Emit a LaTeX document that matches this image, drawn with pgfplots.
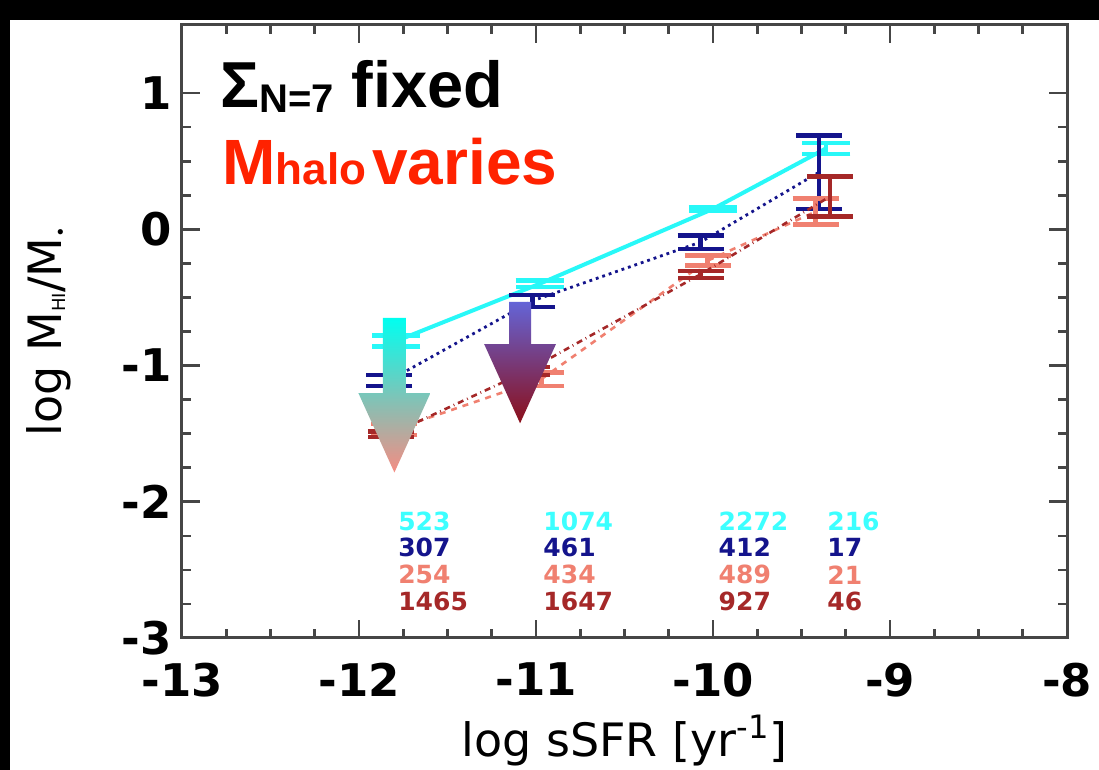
\documentclass[border=0pt]{standalone}
\usepackage{fontspec}
\setmainfont{DejaVu Sans}
\newfontfamily\lsb{Liberation Sans}
\usepackage{pgfplots}
\pgfplotsset{compat=1.18}
\definecolor{cy}{RGB}{40,248,248}
\definecolor{cyt}{RGB}{60,255,255}
\definecolor{nv}{RGB}{20,20,140}
\definecolor{sa}{RGB}{240,128,112}
\definecolor{dr}{RGB}{165,40,40}
\definecolor{hr}{RGB}{255,34,0}
\definecolor{ax}{RGB}{70,70,70}
\definecolor{aat}{RGB}{0,255,240}
\definecolor{aam}{RGB}{155,182,182}
\definecolor{aab}{RGB}{245,140,130}
\definecolor{abt}{RGB}{100,100,215}
\definecolor{abm}{RGB}{118,58,125}
\definecolor{abb}{RGB}{140,15,25}
\begin{document}
\begin{tikzpicture}
\path[use as bounding box] (0,0) rectangle (549.5pt,385pt);
\fill[white] (0,0) rectangle (549.5pt,385pt);
\begin{axis}[
 at={(91pt,66pt)}, anchor=south west,
 scale only axis, width=442.5pt, height=306.5pt,
 xmin=-13, xmax=-8, ymin=-3, ymax=1.5,
 xtick={-13,-12,-11,-10,-9,-8}, xticklabels={-13,-12,-11,-10,-9,-8},
 ytick={-3,-2,-1,0,1}, yticklabels={-3,-2,-1,0,1},
 minor tick num=3,
 tick align=inside,
 major tick length=9pt, minor tick length=4.5pt,
 axis line style={ax, line width=1.5pt},
 every tick/.style={ax, line width=1.3pt},
 tick label style={font=\fontsize{22.5}{22.5}\selectfont\bfseries, text=black},
 xticklabel style={yshift=-9pt},
 yticklabel style={xshift=-1.5pt},
 xlabel={log sSFR [yr\textsuperscript{-1}]},
 ylabel={log M{\fontsize{9}{9}\selectfont\raisebox{-2pt}{HI}}/M{\fontsize{9}{9}\selectfont\raisebox{-3pt}{•}}},
 every axis x label/.style={at={(axis description cs:0.5,0)}, anchor=base, yshift=-59.5pt, font=\fontsize{23}{23}\selectfont},
 every axis y label/.style={at={(axis description cs:-0.1503,0.5)}, anchor=center, rotate=90, font=\fontsize{23}{23}\selectfont},
 clip=false,
]
% cyan
\addplot[cy, line width=2pt, error bars/.cd, y dir=both, y explicit,
  error bar style={solid, line width=2.2pt},
  error mark options={solid, rotate=90, mark size=12pt, line width=2.2pt}]
  coordinates {(-11.79,-0.82) +- (0,0.04) (-10.98,-0.40) +- (0,0.025) (-10.0,0.15) +- (0,0.015) (-9.36,0.595) +- (0,0.04)};
% navy
\addplot[nv, dotted, line width=1.4pt, error bars/.cd, y dir=both, y explicit,
  error bar style={solid, line width=2.2pt},
  error mark options={solid, rotate=90, mark size=11.5pt, line width=2.2pt}]
  coordinates {(-11.83,-1.11) +- (0,0.04) (-11.02,-0.525) +- (0,0.045) (-10.07,-0.094) +- (0,0.05) (-9.40,0.42) +- (0,0.27)};
% salmon
\addplot[sa, dashed, line width=1.3pt, error bars/.cd, y dir=both, y explicit,
  error bar style={solid, line width=2.2pt},
  error mark options={solid, rotate=90, mark size=11.5pt, line width=2.2pt}]
  coordinates {(-11.80,-1.47) +- (0,0.04) (-10.97,-1.10) +- (0,0.048) (-10.03,-0.23) +- (0,0.037) (-9.42,0.13) +- (0,0.096)};
% dark red
\addplot[dr, dash dot, line width=1.3pt, error bars/.cd, y dir=both, y explicit,
  error bar style={solid, line width=2.2pt},
  error mark options={solid, rotate=90, mark size=11.5pt, line width=2.2pt}]
  coordinates {(-11.82,-1.505) +- (0,0.02) (-11.05,-1.04) +- (0,0.03) (-10.07,-0.33) +- (0,0.026) (-9.34,0.24) +- (0,0.147)};
% arrows
\shade[top color=aat, middle color=aam, bottom color=aab]
 (axis cs:-11.865,-0.65) -- (axis cs:-11.735,-0.65) -- (axis cs:-11.735,-1.203) -- (axis cs:-11.597,-1.203)
 -- (axis cs:-11.80,-1.785) -- (axis cs:-12.003,-1.203) -- (axis cs:-11.865,-1.203) -- cycle;
\shade[top color=abt, middle color=abm, bottom color=abb]
 (axis cs:-11.152,-0.532) -- (axis cs:-11.028,-0.532) -- (axis cs:-11.028,-0.842) -- (axis cs:-10.887,-0.842)
 -- (axis cs:-11.09,-1.424) -- (axis cs:-11.293,-0.842) -- (axis cs:-11.152,-0.842) -- cycle;
% counts
\tikzset{cnt/.style={anchor=west, inner sep=0pt, font=\fontsize{12.5}{12.5}\selectfont\bfseries}}
\node[cnt, text=cyt] at (axis cs:-11.78,-2.145) {523};
\node[cnt, text=nv] at (axis cs:-11.78,-2.337) {307};
\node[cnt, text=sa] at (axis cs:-11.78,-2.536) {254};
\node[cnt, text=dr] at (axis cs:-11.78,-2.735) {1465};
\node[cnt, text=cyt] at (axis cs:-10.96,-2.145) {1074};
\node[cnt, text=nv] at (axis cs:-10.96,-2.337) {461};
\node[cnt, text=sa] at (axis cs:-10.96,-2.536) {434};
\node[cnt, text=dr] at (axis cs:-10.96,-2.735) {1647};
\node[cnt, text=cyt] at (axis cs:-9.97,-2.145) {2272};
\node[cnt, text=nv] at (axis cs:-9.97,-2.337) {412};
\node[cnt, text=sa] at (axis cs:-9.97,-2.536) {489};
\node[cnt, text=dr] at (axis cs:-9.97,-2.735) {927};
\node[cnt, text=cyt] at (axis cs:-9.356,-2.145) {216};
\node[cnt, text=nv] at (axis cs:-9.356,-2.337) {17};
\node[cnt, text=sa] at (axis cs:-9.356,-2.536) {21};
\node[cnt, text=dr] at (axis cs:-9.356,-2.735) {46};
\end{axis}
\node[anchor=base west, inner sep=0pt, font=\lsb\bfseries] at (110pt,331pt)
 {\fontsize{32.5}{32.5}\selectfont Σ\raisebox{-2.5pt}{\fontsize{20}{20}\selectfont N=7} fixed};
\node[anchor=base west, inner sep=0pt, font=\lsb\bfseries, text=hr] at (111pt,292.5pt)
 {\fontsize{32}{32}\selectfont M{\fontsize{22}{22}\selectfont halo}\hspace{3pt}varies};
\fill[black] (0,375pt) rectangle (549.5pt,385pt);
\fill[black] (0,0) rectangle (5pt,385pt);
\end{tikzpicture}
\end{document}
